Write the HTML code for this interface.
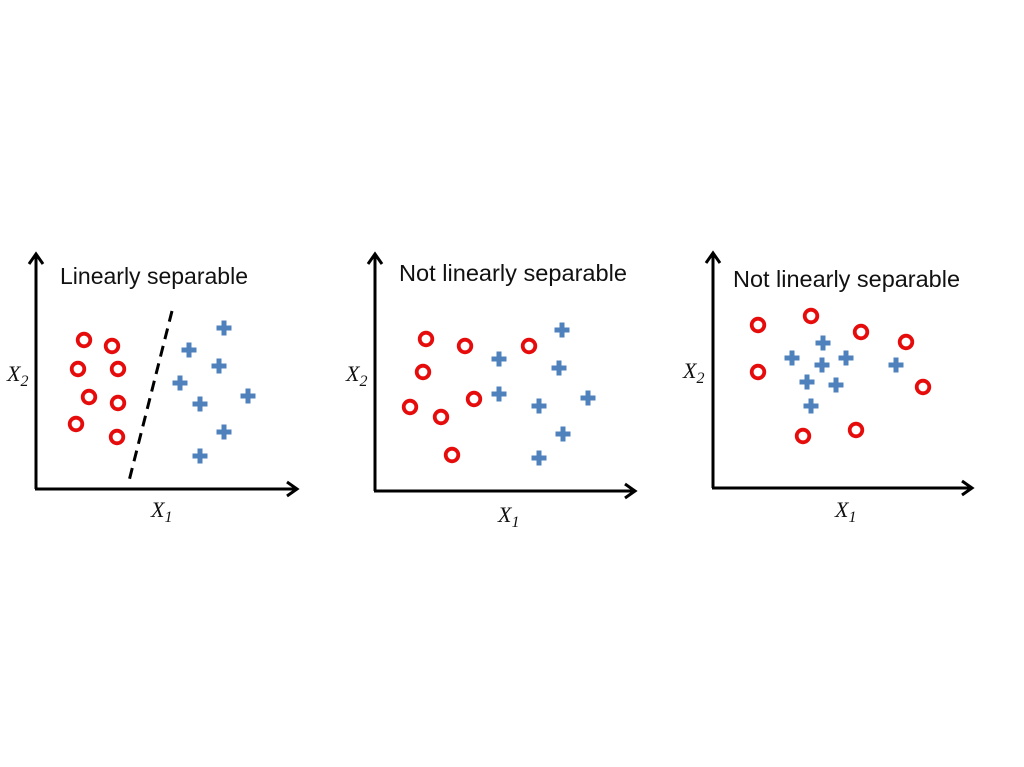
<!DOCTYPE html>
<html><head><meta charset="utf-8"><style>
html,body{margin:0;padding:0;background:#fff;}
svg{display:block;}
.t{font-family:"Liberation Sans",sans-serif;font-size:23px;fill:#111;}
.ax{font-family:"Liberation Serif",serif;font-style:italic;font-size:22px;fill:#111;}
</style></head><body>
<svg id="chart" width="1024" height="767" viewBox="0 0 1024 767">
<rect width="1024" height="767" fill="#fff"/>
</svg>
<script>
// panel data in abstract units (x1, x2)
const panelTitles = ["Linearly separable", "Not linearly separable", "Not linearly separable"];
const p1CirclesX = [4.8, 7.6, 4.2, 8.2, 5.3, 8.2, 4.0, 8.1];
const p1CirclesY = [14.9, 14.3, 12.0, 12.0, 9.2, 8.6, 6.5, 5.2];
const p1PlusX = [18.8, 15.3, 18.3, 14.4, 16.4, 21.2, 18.8, 16.4];
const p1PlusY = [16.1, 13.9, 12.3, 10.6, 8.5, 9.3, 5.7, 3.3];
const p1LineX = [13.6, 9.3];
const p1LineY = [17.8, 0.8];
const p2CirclesX = [5.1, 9.0, 15.4, 4.8, 3.5, 9.9, 6.6, 7.7];
const p2CirclesY = [15.2, 14.5, 14.5, 11.9, 8.4, 9.2, 7.4, 3.6];
const p2PlusX = [18.7, 12.4, 18.4, 12.4, 16.4, 21.3, 18.8, 16.4];
const p2PlusY = [16.1, 13.2, 12.3, 9.7, 8.5, 9.3, 5.7, 3.3];
const p3CirclesX = [4.5, 9.8, 14.8, 19.3, 4.5, 21.0, 9.0, 14.3];
const p3CirclesY = [16.3, 17.2, 15.6, 14.6, 11.6, 10.1, 5.2, 5.8];
const p3PlusX = [11.0, 7.9, 13.3, 10.9, 18.3, 9.4, 12.3, 9.8];
const p3PlusY = [14.5, 13.0, 13.0, 12.3, 12.3, 10.6, 10.3, 8.2];

const NS = "http://www.w3.org/2000/svg";
const svg = document.getElementById("chart");
function mk(tag, attrs, parent) {
  const e = document.createElementNS(NS, tag);
  for (const k in attrs) e.setAttribute(k, attrs[k]);
  (parent || svg).appendChild(e);
  return e;
}
const panels = [
  {ox:36, oy:489, top:254, right:297, title:[60,284,188], x2:[7,381], x1:[151,517], cx:p1CirclesX, cy:p1CirclesY, px:p1PlusX, py:p1PlusY, line:true},
  {ox:375, oy:491, top:254, right:635, title:[399,281,228], x2:[346,381], x1:[498,522], cx:p2CirclesX, cy:p2CirclesY, px:p2PlusX, py:p2PlusY},
  {ox:713, oy:488, top:253, right:972, title:[733,287,227], x2:[683,378], x1:[835,517], cx:p3CirclesX, cy:p3CirclesY, px:p3PlusX, py:p3PlusY}
];
panels.forEach((p, i) => {
  const g = mk("g", {});
  
  
  const sx = v => p.ox + v * 10;
  const sy = v => p.oy - v * 10;
  const ya = mk("path", {d:`M${p.ox},${p.oy} L${p.ox},${p.top}`, stroke:"#000", "stroke-width":3, fill:"none"}, g);
  
  
  mk("path", {d:`M${p.ox-7},${p.top+10} L${p.ox},${p.top} L${p.ox+7},${p.top+10}`, stroke:"#000", "stroke-width":3, fill:"none"}, g);
  const xa = mk("path", {d:`M${p.ox-1},${p.oy} L${p.right},${p.oy}`, stroke:"#000", "stroke-width":3, fill:"none"}, g);
  
  
  mk("path", {d:`M${p.right-10},${p.oy-7} L${p.right},${p.oy} L${p.right-10},${p.oy+7}`, stroke:"#000", "stroke-width":3, fill:"none"}, g);
  const t = mk("text", {x:p.title[0], y:p.title[1], class:"t", textLength:p.title[2], lengthAdjust:"spacingAndGlyphs"}, g);
  t.textContent = panelTitles[i];
  
  
  const l2 = mk("text", {x:p.x2[0], y:p.x2[1], class:"ax"}, g);
  l2.innerHTML = 'X<tspan font-size="16" dy="5">2</tspan>';
  
  
  const l1 = mk("text", {x:p.x1[0], y:p.x1[1], class:"ax"}, g);
  l1.innerHTML = 'X<tspan font-size="16" dy="5">1</tspan>';
  
  
  if (p.line) {
    const dl = mk("line", {x1:sx(p1LineX[0]), y1:sy(p1LineY[0]), x2:sx(p1LineX[1]), y2:sy(p1LineY[1]), stroke:"#000", "stroke-width":3, "stroke-dasharray":"11,7"}, g);
    
    
  }
  p.cx.forEach((v, j) => {
    const c = mk("circle", {cx:sx(v), cy:sy(p.cy[j]), r:6.3, fill:"none", stroke:"#e60c0c", "stroke-width":3.8}, g);
    
    
  });
  p.px.forEach((v, j) => {
    const x = sx(v), y = sy(p.py[j]);
    const pl = mk("path", {d:`M${x-7.5},${y} L${x+7.5},${y} M${x},${y-7.5} L${x},${y+7.5}`, stroke:"#4f81bd", "stroke-width":5, fill:"none"}, g);
    
    
  });
});
</script>
</body></html>
